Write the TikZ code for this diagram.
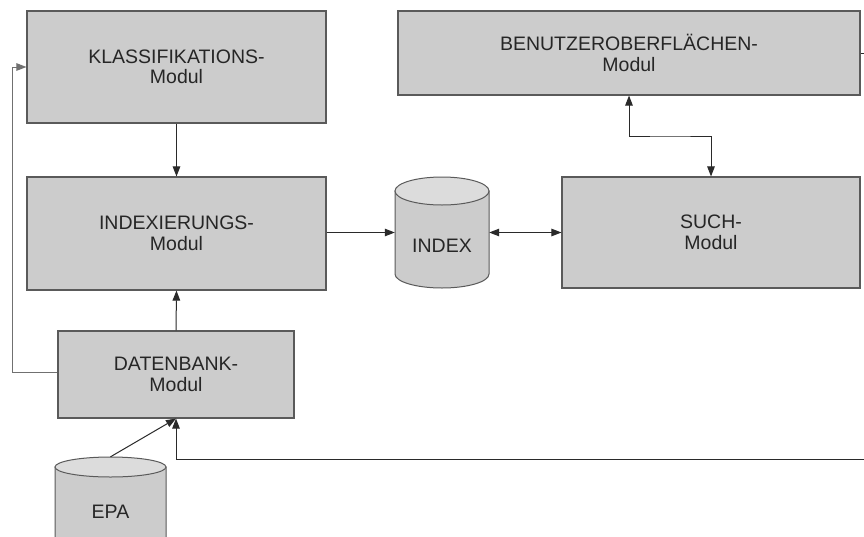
\documentclass[tikz,border=0pt]{standalone}
\usepackage{fontspec}
\setmainfont{Liberation Sans}
\usetikzlibrary{arrows.meta}
\definecolor{boxfill}{HTML}{CCCCCC}
\definecolor{topfill}{HTML}{DCDCDC}
\definecolor{boxline}{HTML}{5A5A5A}
\definecolor{conn}{HTML}{2A2A2A}
\definecolor{conngray}{HTML}{707070}
\begin{document}
\begin{tikzpicture}[x=1pt,y=-1pt,
  modbox/.style={draw=boxline,fill=boxfill,line width=1.1pt,inner sep=0pt,
    align=center,font=\fontsize{19.5}{20.5}\selectfont,text=black!85},
  cylarea/.style={inner sep=0pt,draw=none},
  cyltext/.style={inner sep=0pt,font=\fontsize{19.5}{20.5}\selectfont,text=black!85},
  cylbody/.style={draw=boxline,fill=boxfill,line width=1pt},
  cyltop/.style={draw=boxline,fill=topfill,line width=1pt},
  arr/.style={draw=conn,line width=1pt,-{Triangle[length=10pt,width=7.5pt]}},
  arrb/.style={draw=conn,line width=1pt,{Triangle[length=10pt,width=7.5pt]}-{Triangle[length=10pt,width=7.5pt]}},
]
\useasboundingbox (0,0) rectangle (864,536);
\clip (0,0) rectangle (864,536);
\fill[white] (0,0) rectangle (864,536);

% boxes
\node[modbox,minimum width=299pt,minimum height=112pt] (klass) at (176.5,67) {KLASSIFIKATIONS-\\Modul};
\node[modbox,minimum width=299pt,minimum height=113pt] (indx) at (176.5,233.5) {INDEXIERUNGS-\\Modul};
\node[modbox,minimum width=236pt,minimum height=87pt] (dbank) at (176,374.5) {DATENBANK-\\Modul};
\node[modbox,minimum width=462pt,minimum height=84pt] (benutzer) at (629,53) {BENUTZEROBERFLÄCHEN-\\Modul};
\node[modbox,minimum width=298pt,minimum height=111pt] (such) at (711,232.5) {SUCH-\\Modul};

% INDEX cylinder
\node[cylarea,minimum width=94pt,minimum height=111pt] (index) at (442,232.5) {};
\path[cylbody] (395,191) -- (395,274) arc[start angle=180,end angle=360,x radius=47pt,y radius=14pt] -- (489,191) -- cycle;
\path[cyltop] (442,191) ellipse [x radius=47pt,y radius=14pt];
\node[cyltext] (indexlbl) at (442,246) {INDEX};

% EPA cylinder
\node[cylarea,minimum width=111pt,minimum height=92pt] (epa) at (110.5,503) {};
\path[cylbody] (55,467) -- (55,540) arc[start angle=180,end angle=360,x radius=55.5pt,y radius=10pt] -- (166,467) -- cycle;
\path[cyltop] (110.5,467) ellipse [x radius=55.5pt,y radius=10pt];
\node[cyltext] (epalbl) at (110.5,512) {EPA};

% connectors
\draw[arr] (klass.south) -- (indx.north);
\draw[arr] (dbank.north) -- (indx.south);
\coordinate (fbL) at (12,372);
\draw[arr,draw=conngray] (dbank.west |- fbL) -- (fbL) |- (klass.west);
\draw[arr] (epa.north) -- (dbank.south);
\draw[arr] (indx.east |- index.west) -- (index.west);
\draw[arrb] (index.east) -- (such.west);
\coordinate (bs) at (670,136);
\draw[arrb] (benutzer.south) |- (bs) -| (such.north);
\coordinate (outR) at (884,459);
\draw[arr] (benutzer.east) -| (outR) -| (dbank.south);
\end{tikzpicture}
\end{document}
